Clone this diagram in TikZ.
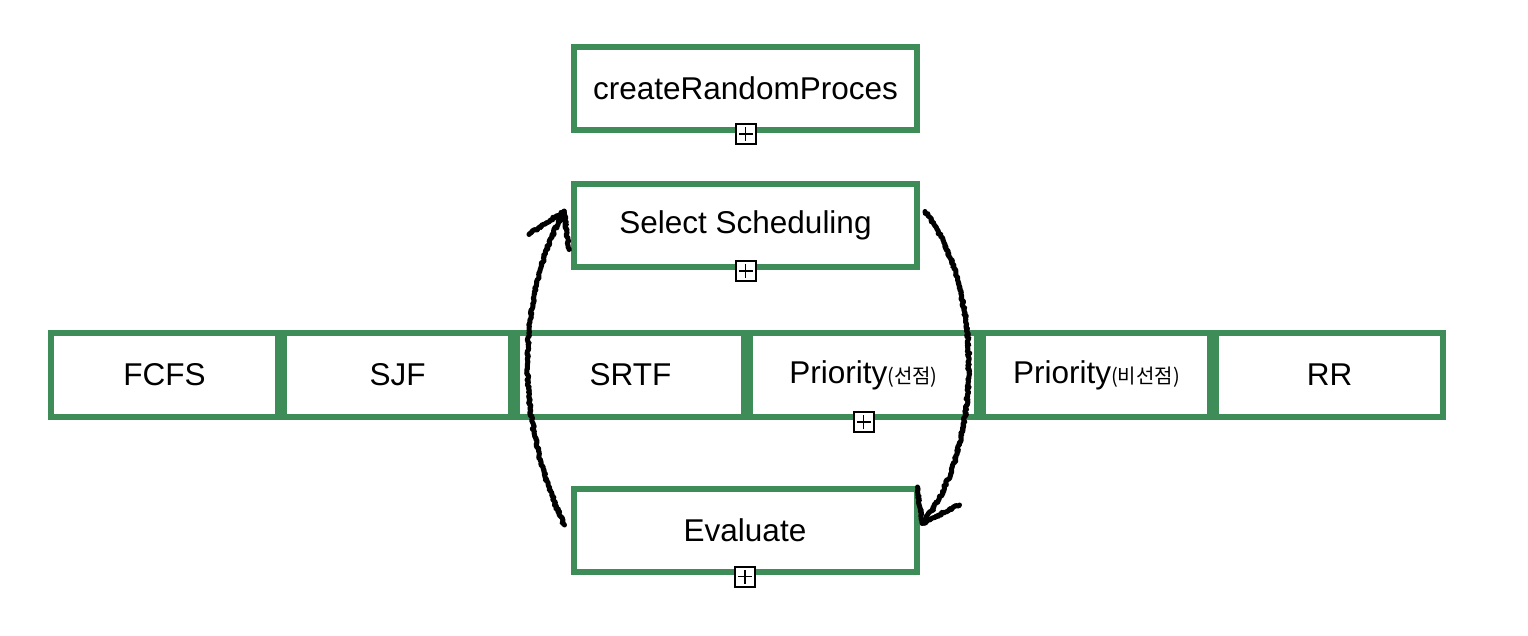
\documentclass[tikz,border=0pt]{standalone}
\usepackage{fontspec}
\setmainfont{Liberation Sans}
\newfontfamily\kr{Noto Sans CJK KR}
\usepackage{tikz}
\usetikzlibrary{positioning, decorations.pathmorphing, calc}

\definecolor{boxgreen}{RGB}{62,140,88}
\newcommand{\ko}[1]{{\kr\fontsize{20}{24}\selectfont #1}}

\begin{document}
\begin{tikzpicture}[
  x=1pt, y=-1pt,
  stepbox/.style={draw=boxgreen, line width=6pt, fill=white,
    minimum width=343pt, minimum height=83pt, align=center,
    font=\fontsize{31.5}{38}\selectfont},
  algbox/.style={draw=boxgreen, line width=6pt, fill=white,
    minimum width=227pt, minimum height=84pt, align=center,
    font=\fontsize{31.5}{38}\selectfont},
  plusbox/.style={draw=black, line width=2pt, fill=white,
    minimum size=20pt, inner sep=0pt, outer sep=0pt,
    path picture={
      \draw[line width=1.8pt]
        ([xshift=-7pt]path picture bounding box.center) -- ([xshift=7pt]path picture bounding box.center)
        ([yshift=-7pt]path picture bounding box.center) -- ([yshift=7pt]path picture bounding box.center);
    }},
  sketch/.style={draw=black, line width=5pt, line cap=round, line join=round,
    decorate, decoration={random steps, segment length=1.5pt, amplitude=1.2pt}},
]
\useasboundingbox (0,0) rectangle (1528,636);

% ── Steps ──
\node[stepbox] (create) at (745.5,88.5) {createRandomProces};
\node[stepbox] (select) at (745.5,225.5) {Select Scheduling};
\node[stepbox] (evaluate) at (745,530) {Evaluate};

% ── Scheduling algorithms ──
\node[algbox] (fcfs) at (164.5,375) {FCFS};
\node[algbox, right=0pt of fcfs] (sjf) {SJF};
\node[algbox, right=0pt of sjf] (srtf) {SRTF};
\node[algbox, right=0pt of srtf] (prio) {Priority\ko{(선점)}};
\node[algbox, right=0pt of prio] (nprio) {Priority\ko{(비선점)}};
\node[algbox, right=0pt of nprio] (rr) {RR};

% ── Expand markers ──
\node[plusbox] (create-plus) at ([yshift=-1]create.south) {};
\node[plusbox] (select-plus) at ([yshift=-1]select.south) {};
\node[plusbox] (prio-plus) at ([yshift=-2]prio.south) {};
\node[plusbox] (evaluate-plus) at ([yshift=-2]evaluate.south) {};

% ── Loop: evaluate -> select ──
\coordinate (loop-tip) at ([shift={(-7,-14)}]select.west);
\draw[sketch] ([shift={(-6,-5)}]evaluate.west)
  .. controls +(-50,-105) and +(-48,88) .. (loop-tip);
\draw[sketch] (loop-tip) -- +(-35,23);
\draw[sketch] (loop-tip) -- +(5,38);

% ── Loop: select -> evaluate ──
\coordinate (eval-tip) at ([shift={(3,-7)}]evaluate.east);
\draw[sketch] ([shift={(5,-14)}]select.east)
  .. controls +(60,78) and +(60,-73) .. (eval-tip);
\draw[sketch] (eval-tip) -- +(-5,-36);
\draw[sketch] (eval-tip) -- +(37,-18);
\end{tikzpicture}
\end{document}
